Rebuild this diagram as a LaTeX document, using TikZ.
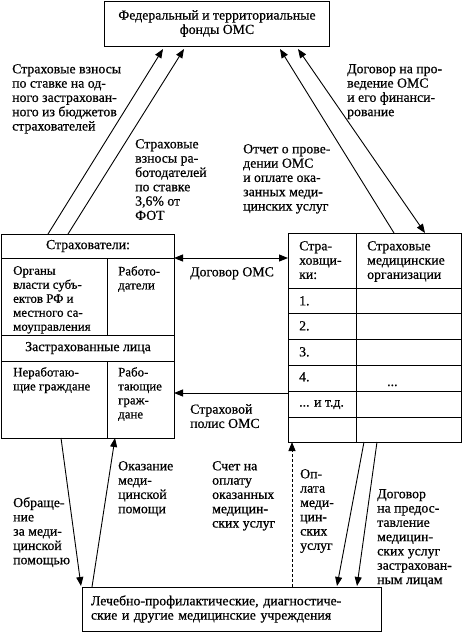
\documentclass[tikz,border=0pt]{standalone}
\usepackage{fontspec}
\setmainfont{Liberation Serif}
\newfontfamily\rfont{Liberation Serif}[FakeBold=0.6]
\usetikzlibrary{arrows.meta}
\newcommand\fs{\rfont\fontsize{13.8}{14.3}\selectfont}
\newcommand\fc{\rfont\fontsize{12.9}{14}\selectfont}
\begin{document}
\begin{tikzpicture}[x=1pt,y=-1pt,
  box/.style={draw, line width=1pt},
  lbl/.style={font=\fs, align=left, inner sep=0pt, anchor=north west},
  cell/.style={lbl, font=\fc},
  ctr/.style={font=\fs, align=center, inner sep=0pt},
  arr/.style={line width=0.9pt, -{Triangle[length=9pt,width=7pt]}},
  darr/.style={line width=0.9pt, {Triangle[length=9pt,width=7pt]}-{Triangle[length=9pt,width=7pt]}},
  dsh/.style={arr, dash pattern=on 3pt off 2pt}
]
\useasboundingbox (0,0) rectangle (463,633);
% boxes
\node[box, minimum width=225pt, minimum height=45pt, font=\fs, align=center, inner sep=0pt] (fund) at (217,23.5) {Федеральный и территориальные\\фонды ОМС};
\node[box, minimum width=173pt, minimum height=204pt, inner sep=0pt] (ins) at (87.5,336) {};
\node[box, minimum width=173pt, minimum height=209pt, inner sep=0pt] (insr) at (374.5,337.5) {};
\node[box, minimum width=299pt, minimum height=44pt, text width=281pt, inner xsep=9pt, inner ysep=0pt, font=\fs, align=left] (lpu) at (231.5,609) {Лечебно-профилактические, диагностиче-\\ские и другие медицинские учреждения};
% left table
\draw[box] (1,258) -- (174,258);
\draw[box] (1,335) -- (174,335);
\draw[box] (1,361) -- (174,361);
\draw[box] (107,258) -- (107,335);
\draw[box] (107,361) -- (107,438);
\node[ctr] (t1) at (88,246) {Страхователи:};
\node[cell] (t2) at (13,266) {Органы\\власти субъ-\\ектов РФ и\\местного са-\\моуправления};
\node[cell] (t3) at (118,266) {Работо-\\датели};
\node[ctr] (t4) at (88,348) {Застрахованные лица};
\node[cell] (t5) at (13,367) {Неработаю-\\щие граждане};
\node[cell] (t6) at (118,367) {Рабо-\\тающие\\граж-\\дане};
% right table
\draw[box] (356,233) -- (356,442);
\foreach \yy in {288,313,339,365,391,417} \draw[box] (288,\yy) -- (461,\yy);
\node[lbl] (r1) at (299,241) {Стра-\\ховщи-\\ки:};
\node[lbl] (r2) at (367,241) {Страховые\\медицинские\\организации};
\node[lbl] (n1) at (299,296) {1.};
\node[lbl] (n2) at (299,321) {2.};
\node[lbl] (n3) at (299,347) {3.};
\node[lbl] (n4) at (299,372) {4.};
\node[lbl] (n5) at (299,400) {... и т.д.};
\node[font=\fs, inner sep=0pt, anchor=base west] (dots) at (387,386) {...};
% coordinates
\coordinate (l1a) at (48,234);  \coordinate (l1b) at (163,49);
\coordinate (l2a) at (68,234);  \coordinate (l2b) at (184,49);
\coordinate (raa) at (394,233); \coordinate (rab) at (280,49);
\coordinate (rba) at (298,49);  \coordinate (rbb) at (425,233);
\coordinate (h1a) at (174,258); \coordinate (h1b) at (288,258);
\coordinate (h2a) at (288,393); \coordinate (h2b) at (174,393);
\coordinate (b1a) at (61,438);  \coordinate (b1b) at (81,586);
\coordinate (b2a) at (92,587);  \coordinate (b2b) at (115,438);
\coordinate (b3a) at (292,587); \coordinate (b3b) at (292,442);
\coordinate (b4a) at (364,442); \coordinate (b4b) at (337,586);
\coordinate (b5a) at (377,442); \coordinate (b5b) at (357,586);
% connectors
\draw[arr] (l1a) -- (l1b);
\draw[arr] (l2a) -- (l2b);
\draw[arr] (raa) -- (rab);
\draw[darr] (rba) -- (rbb);
\draw[darr] (h1a) -- (h1b);
\draw[arr] (h2a) -- (h2b);
\draw[arr] (b1a) -- (b1b);
\draw[arr] (b2a) -- (b2b);
\draw[dsh] (b3a) -- (b3b);
\draw[arr] (b4a) -- (b4b);
\draw[arr] (b5a) -- (b5b);
% labels
\node[lbl] (L1) at (12,64) {Страховые взносы\\по ставке на од-\\ного застрахован-\\ного из бюджетов\\страхователей};
\node[lbl] (L2) at (347,64) {Договор на про-\\ведение ОМС\\и его финанси-\\рование};
\node[lbl] (L3) at (135,139) {Страховые\\взносы ра-\\ботодателей\\по ставке\\3,6\% от\\ФОТ};
\node[lbl] (L4) at (243,144) {Отчет о прове-\\дении ОМС\\и оплате ока-\\занных меди-\\цинских услуг};
\node[lbl] (L5) at (190,267) {Договор ОМС};
\node[lbl] (L6) at (190,404) {Страховой\\полис ОМС};
\node[lbl] (L7) at (13,497) {Обраще-\\ние\\за меди-\\цинской\\помощью};
\node[lbl] (L8) at (118,461) {Оказание\\меди-\\цинской\\помощи};
\node[lbl] (L9) at (212,461) {Счет на\\оплату\\оказанных\\медицин-\\ских услуг};
\node[lbl] (L10) at (300,469) {Оп-\\лата\\меди-\\цин-\\ских\\услуг};
\node[lbl] (L11) at (377,489) {Договор\\на предос-\\тавление\\медицин-\\ских услуг\\застрахован-\\ным лицам};
\end{tikzpicture}
\end{document}
